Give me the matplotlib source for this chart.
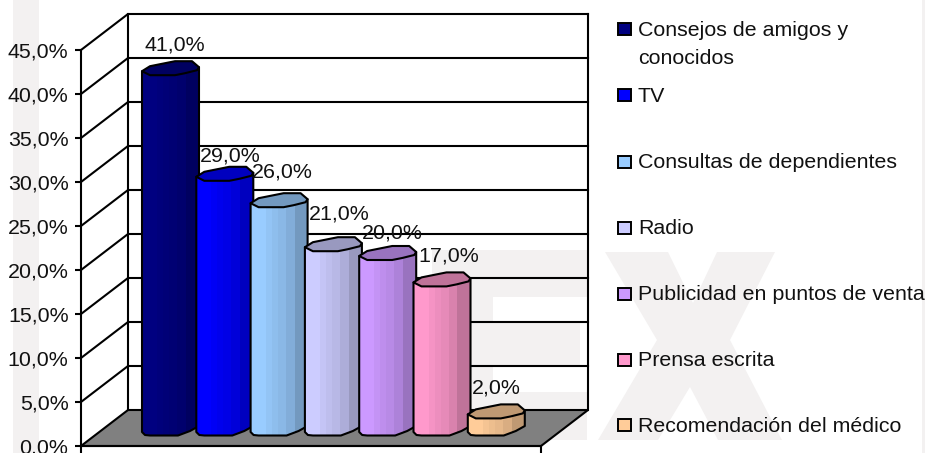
import matplotlib
matplotlib.use("Agg")
import matplotlib.pyplot as plt
from matplotlib.patches import Polygon, Rectangle
from matplotlib.transforms import Affine2D

plt.rcParams['font.family'] = ['Liberation Sans', 'DejaVu Sans']

categories = ["Consejos de amigos y\nconocidos", "TV", "Consultas de dependientes", "Radio",
              "Publicidad en puntos de venta", "Prensa escrita", "Recomendación del médico"]
values = [41, 29, 26, 21, 20, 17, 2]
colors = ["#000080", "#0000FF", "#99CCFF", "#CCCCFF", "#CC99FF", "#FF99CC", "#FFCC99"]
yticks = [0, 5, 10, 15, 20, 25, 30, 35, 40, 45]
label_offsets = [(33, -26), (34, -21), (32, -31), (34, -33), (33, -23), (35, -26), (29, -26)]
legend_ys = [30, 96, 163, 229, 295, 361, 426]

W, H = 925, 453
FS = 15.4
fig = plt.figure(figsize=(W / 100, H / 100), dpi=100, facecolor="white")
L, R, T, B = 81, 541, 50, 446
ax = fig.add_axes([L / W, 1 - B / H, (R - L) / W, (B - T) / H])
ax.patch.set_visible(False)
PX_X, PX_Y = 54.3, 8.8
x0, x1 = (L - 142) / PX_X, (R - 142) / PX_X
ax.set_xlim(x0, x1)
ax.set_ylim(0, 45)
DX, DY = 47 / PX_X, 36 / PX_Y

px = Affine2D().scale(1 / W, -1 / H).translate(0, 1) + fig.transFigure
WM = "#F3F1F1"
wm_polys = [
    [(13, 0), (39, 0), (39, 453), (13, 453)],
    [(922, 0), (925, 0), (925, 453), (922, 453)],
    [(605, 252), (668, 252), (693, 303), (717, 252), (775, 252), (730, 340), (782, 440),
     (718, 440), (690, 387), (658, 440), (598, 440), (657, 340)],
    [(432, 250), (587, 250), (587, 297), (493, 297), (493, 322), (580, 322), (580, 365),
     (493, 365), (493, 392), (587, 392), (587, 440), (432, 440)],
]
for p in wm_polys:
    fig.add_artist(Polygon(p, closed=True, fc=WM, ec="none", transform=px, zorder=-1))

# walls and floor
lw = 1.5
ax.add_patch(Polygon([(x0, 0), (x0 + DX, DY), (x1 + DX, DY), (x1, 0)], closed=True,
                     fc="#808080", ec="black", lw=lw, clip_on=False, zorder=1))
for v in yticks[1:]:
    ax.plot([x0, x0 + DX, x1 + DX], [v, v + DY, v + DY], color="black", lw=lw,
            clip_on=False, zorder=1, solid_joinstyle="miter")
ax.plot([x0 + DX, x0 + DX], [DY, 45 + DY], color="black", lw=lw, clip_on=False, zorder=1)
ax.plot([x1 + DX, x1 + DX], [DY, 45 + DY], color="black", lw=lw, clip_on=False, zorder=1)

# axes
for s in ("top", "right"):
    ax.spines[s].set_visible(False)
for s in ("left", "bottom"):
    ax.spines[s].set_linewidth(lw)
ax.set_yticks(yticks)
ax.set_yticklabels([f"{v:.1f}%".replace(".", ",") for v in yticks], fontsize=FS, color="#111111")
ax.set_xticks([x0, x1])
ax.set_xticklabels([])
ax.tick_params(axis="y", length=4, width=lw, pad=5)
ax.tick_params(axis="x", length=7, width=lw)


def to_data(i, v, dx, dy):
    return (i + dx / PX_X, v + (14 - dy) / PX_Y)


BW = 57
TOP = [(0, 0), (8, -5), (23, -8), (33, -10), (50, -10), (57, -4), (55, -1), (43, 2), (33, 4), (8, 4)]
STRIPS = [(0, 15, 1.0), (15, 21, 0.96), (21, 27, 0.93), (27, 35, 0.9), (35, 44, 0.85), (44, 58, 0.75)]


def shade(hex_c, f):
    r, g, b = matplotlib.colors.to_rgb(hex_c)
    return (r * f, g * f, b * f)


for i, (v, c) in enumerate(zip(values, colors)):
    z = 3 + i
    h = v * PX_Y
    body = [to_data(i, v, 0, 0), to_data(i, v, 0, h), to_data(i, v, 3, h + 3), to_data(i, v, 8, h + 3.5),
            to_data(i, v, 36, h + 3.5), to_data(i, v, 48, h - 1), to_data(i, v, BW, h - 6), to_data(i, v, BW, -4)]
    clip = Polygon(body, closed=True, transform=ax.transData)
    for a, b, f in STRIPS:
        (xa, yt), (xb, yb) = to_data(i, v, a, -6), to_data(i, v, b, h + 5)
        bar = ax.bar(xa, yt - yb, width=xb - xa, bottom=yb, align="edge", color=shade(c, f),
                     lw=0, zorder=z, clip_on=True)[0]
        bar.set_clip_path(clip)
    ax.add_patch(Polygon(body, closed=True, fc="none", ec="black", lw=lw, clip_on=False, zorder=z,
                         joinstyle="round"))
    ax.add_patch(Polygon([to_data(i, v, dx, dy) for dx, dy in TOP], closed=True, fc=shade(c, 0.75),
                         ec="black", lw=lw, clip_on=False, zorder=z, joinstyle="round"))

for i, (v, (ox, oy)) in enumerate(zip(values, label_offsets)):
    xd, yd = to_data(i, v, ox, oy)
    ax.text(xd, yd, f"{v:.1f}%".replace(".", ","), ha="center", va="center", fontsize=FS,
            color="#111111", clip_on=False, zorder=20)

# legend
for name, c, y in zip(categories, colors, legend_ys):
    fig.add_artist(Rectangle((618, y - 7), 13, 12, fc=c, ec="black", lw=1.4, transform=px, zorder=5))
    if "\n" in name:
        a, b = name.split("\n")
        fig.text(638 / W, 1 - y / H, a, fontsize=FS, va="center", ha="left", color="#111111", zorder=5)
        fig.text(638 / W, 1 - (y + 28) / H, b, fontsize=FS, va="center", ha="left", color="#111111", zorder=5)
    else:
        fig.text(638 / W, 1 - y / H, name, fontsize=FS, va="center", ha="left", color="#111111", zorder=5)

fig.savefig("out.png", dpi=100)
